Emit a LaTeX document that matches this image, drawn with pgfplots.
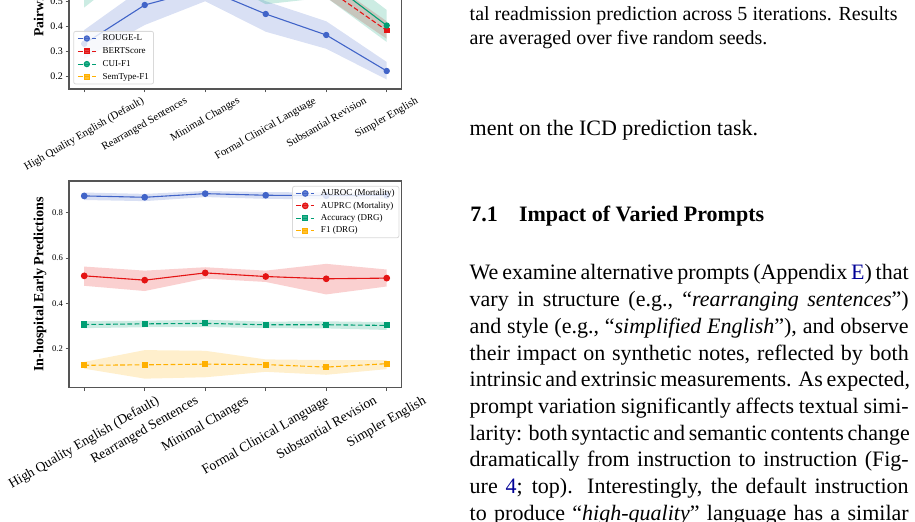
\documentclass[border=0pt]{standalone}
\usepackage{pgfplots}
\pgfplotsset{compat=1.18}
\usepackage{pgfplotstable}
\usepgfplotslibrary{fillbetween}
\usepackage{graphicx}
\usepackage{fontspec}
\setmainfont{Liberation Serif}
\definecolor{cblue}{RGB}{65,100,200}
\definecolor{cred}{RGB}{228,20,20}
\definecolor{cteal}{RGB}{0,158,115}
\definecolor{corange}{RGB}{255,176,0}
\definecolor{framegray}{RGB}{85,85,85}
\definecolor{linkblue}{RGB}{0,0,150}

\pgfplotstableread{
x r rl rh b bl bh c cl ch s sl sh
0 0.330 0.270 0.385 0.800 0.760 0.840 0.560 0.475 0.640 0.850 0.810 0.890
1 0.485 0.405 0.558 0.820 0.790 0.850 0.730 0.665 0.790 0.870 0.840 0.900
2 0.550 0.500 0.620 0.900 0.880 0.920 0.700 0.620 0.780 0.950 0.930 0.970
3 0.449 0.378 0.500 0.790 0.750 0.830 0.560 0.488 0.640 0.840 0.800 0.880
4 0.365 0.310 0.420 0.552 0.515 0.590 0.586 0.515 0.650 0.660 0.620 0.700
5 0.221 0.187 0.257 0.383 0.350 0.420 0.403 0.337 0.465 0.620 0.575 0.665
}\topdata

\pgfplotstableread{
x a al ah p pl ph c cl ch f fl fh
0 0.875 0.857 0.890 0.522 0.478 0.563 0.307 0.291 0.322 0.127 0.112 0.142
1 0.869 0.852 0.884 0.503 0.455 0.545 0.310 0.295 0.324 0.129 0.068 0.194
2 0.885 0.870 0.897 0.535 0.510 0.560 0.312 0.296 0.328 0.132 0.074 0.191
3 0.878 0.862 0.892 0.519 0.495 0.545 0.306 0.291 0.320 0.130 0.098 0.153
4 0.876 0.860 0.890 0.509 0.440 0.575 0.306 0.290 0.321 0.119 0.085 0.150
5 0.878 0.862 0.892 0.512 0.475 0.550 0.303 0.283 0.318 0.134 0.110 0.150
}\botdata

\pgfplotsset{
  myaxis/.style={
    scale only axis,
    width=166.375pt,
    xmin=-0.25, xmax=5.25,
    xtick={0,1,2,3,4,5},
    axis line style={draw=framegray, line width=0.65pt},
    tick align=outside,
    xtick pos=left, ytick pos=left,
    major tick length=1.75pt,
    tick style={draw=framegray, line width=0.5pt},
    /pgf/number format/assume math mode=true,
    yticklabel style={/pgf/number format/fixed, /pgf/number format/precision=1, /pgf/number format/fixed zerofill, inner sep=1.2pt},
    xticklabel style={anchor=north, inner sep=1.6pt},
    xticklabels={\rotatebox{30}{High Quality English (Default)},
                 \rotatebox{30}{Rearranged Sentences},
                 \rotatebox{30}{Minimal Changes},
                 \rotatebox{30}{Formal Clinical Language},
                 \rotatebox{30}{Substantial Revision},
                 \rotatebox{30}{Simpler English}},
    ylabel style={at={(axis description cs:-0.0875,0.5)}, anchor=center},
    legend cell align=left,
    legend image code/.code={\draw[mark repeat=2,mark phase=2,#1,dash pattern=on 2.4pt off 1.2pt] plot coordinates {(0pt,0pt) (4.5pt,0pt) (9pt,0pt)};},
  },
  band/.style={draw=none, fill=#1, fill opacity=0.2, forget plot},
}

\begin{document}
\begin{tikzpicture}
% ---------------- top chart
\begin{axis}[myaxis,
  at={(34.55pt,-44.5pt)}, anchor=south west,
  height=108.875pt,
  ymin=0.149, ymax=1.02,
  ytick={0.2,0.3,0.4,0.5,0.6,0.7,0.8,0.9,1.0},
  yticklabel style={font=\fontsize{5}{6}\selectfont},
  xticklabel style={font=\fontsize{5.45}{6}\selectfont},
  ylabel={Pairwise Similarity},
  ylabel style={font=\bfseries\fontsize{6.9}{8}\selectfont},
  legend style={at={(axis description cs:0.0126,0.2664)}, anchor=north west,
    font=\fontsize{4.5}{5}\selectfont, draw=black!15, fill=white, fill opacity=0.8, text opacity=1,
    rounded corners=1pt, inner xsep=1.8pt, inner ysep=0.9pt, row sep=1.1pt, column sep=2.6pt,
    nodes={inner sep=0.5pt, text height=3.3pt, text depth=1pt}},
]
\addplot[draw=none, name path=rl, forget plot] table[x=x,y=rl]{\topdata};
\addplot[draw=none, name path=rh, forget plot] table[x=x,y=rh]{\topdata};
\addplot[band=cblue] fill between[of=rl and rh];
\addplot[draw=none, name path=bl, forget plot] table[x=x,y=bl]{\topdata};
\addplot[draw=none, name path=bh, forget plot] table[x=x,y=bh]{\topdata};
\addplot[band=cred] fill between[of=bl and bh];
\addplot[draw=none, name path=cl, forget plot] table[x=x,y=cl]{\topdata};
\addplot[draw=none, name path=ch, forget plot] table[x=x,y=ch]{\topdata};
\addplot[band=cteal] fill between[of=cl and ch];
\addplot[draw=none, name path=sl, forget plot] table[x=x,y=sl]{\topdata};
\addplot[draw=none, name path=sh, forget plot] table[x=x,y=sh]{\topdata};
\addplot[band=corange] fill between[of=sl and sh];

\addplot[cblue, line width=0.55pt, mark=*, mark size=1.3pt, mark options={solid}] table[x=x,y=r]{\topdata};
\addlegendentry{ROUGE-L}
\addplot[cred, line width=0.55pt, dash pattern=on 2.4pt off 1.2pt, mark=square*, mark size=1.15pt, mark options={solid}] table[x=x,y=b]{\topdata};
\addlegendentry{BERTScore}
\addplot[cteal, line width=0.55pt, mark=*, mark size=1.3pt, mark options={solid}] table[x=x,y=c]{\topdata};
\addlegendentry{CUI-F1}
\addplot[corange, line width=0.55pt, dash pattern=on 2.4pt off 1.2pt, mark=square*, mark size=1.15pt, mark options={solid}] table[x=x,y=s]{\topdata};
\addlegendentry{SemType-F1}
\end{axis}

% ---------------- bottom chart
\begin{axis}[myaxis,
  at={(34.55pt,-193.85pt)}, anchor=south west,
  height=103.35pt,
  ymin=0.028, ymax=0.941,
  ytick={0.2,0.4,0.6,0.8},
  yticklabel style={font=\fontsize{4.3}{5}\selectfont},
  xticklabel style={font=\fontsize{6.85}{8}\selectfont},
  ylabel={In-hospital Early Predictions},
  ylabel style={font=\bfseries\fontsize{7.05}{8}\selectfont},
  legend style={at={(axis description cs:0.9925,0.976)}, anchor=north east,
    font=\fontsize{4.5}{5}\selectfont, draw=black!15, fill=white, fill opacity=0.8, text opacity=1,
    rounded corners=1pt, inner xsep=1.6pt, inner ysep=0.9pt, row sep=0.9pt, column sep=2.6pt,
    nodes={inner sep=0.5pt, text height=3.3pt, text depth=1pt}},
]
\addplot[draw=none, name path=al, forget plot] table[x=x,y=al]{\botdata};
\addplot[draw=none, name path=ah, forget plot] table[x=x,y=ah]{\botdata};
\addplot[band=cblue] fill between[of=al and ah];
\addplot[draw=none, name path=pl, forget plot] table[x=x,y=pl]{\botdata};
\addplot[draw=none, name path=ph, forget plot] table[x=x,y=ph]{\botdata};
\addplot[band=cred] fill between[of=pl and ph];
\addplot[draw=none, name path=ccl, forget plot] table[x=x,y=cl]{\botdata};
\addplot[draw=none, name path=cch, forget plot] table[x=x,y=ch]{\botdata};
\addplot[band=cteal] fill between[of=ccl and cch];
\addplot[draw=none, name path=fl, forget plot] table[x=x,y=fl]{\botdata};
\addplot[draw=none, name path=fh, forget plot] table[x=x,y=fh]{\botdata};
\addplot[band=corange] fill between[of=fl and fh];

\addplot[cblue, line width=0.55pt, mark=*, mark size=1.4pt, mark options={solid}] table[x=x,y=a]{\botdata};
\addlegendentry{AUROC (Mortality)}
\addplot[cred, line width=0.55pt, mark=*, mark size=1.4pt, mark options={solid}] table[x=x,y=p]{\botdata};
\addlegendentry{AUPRC (Mortality)}
\addplot[cteal, line width=0.55pt, dash pattern=on 2.4pt off 1.2pt, mark=square*, mark size=1.25pt, mark options={solid}] table[x=x,y=c]{\botdata};
\addlegendentry{Accuracy (DRG)}
\addplot[corange, line width=0.55pt, dash pattern=on 2.4pt off 1.2pt, mark=square*, mark size=1.25pt, mark options={solid}] table[x=x,y=f]{\botdata};
\addlegendentry{F1 (DRG)}
\end{axis}

% ---------------- text column
\begin{scope}[x=0.5pt, y=-0.5pt]
\def\capline#1#2{\node[anchor=base west, inner sep=0pt] at (469.3,#1) {\fontsize{10}{12}\selectfont #2};}
\def\bodyline#1#2{\node[anchor=base west, inner sep=0pt] at (469.3,#1) {\fontsize{11}{13}\selectfont\makebox[219.5pt][s]{#2}};}
\def\lastline#1#2{\node[anchor=base west, inner sep=0pt] at (469.3,#1) {\fontsize{11}{13}\selectfont #2};}
\capline{20.7}{\makebox[213.9pt][s]{tal readmission prediction across 5 iterations. Results}}
\capline{44.3}{are averaged over five random seeds.}
\lastline{136}{ment on the ICD prediction task.}
\node[anchor=base west, inner sep=0pt] at (470,221.7) {\fontsize{11}{13}\selectfont\bfseries 7.1};
\node[anchor=base west, inner sep=0pt] at (518.7,221.7) {\fontsize{11}{13}\selectfont\bfseries Impact of Varied Prompts};
\bodyline{280.0}{We examine alternative prompts (Appendix \textcolor{linkblue}{E}) that}
\bodyline{306.7}{vary in structure (e.g., “\textit{rearranging sentences}”)}
\bodyline{333.4}{and style (e.g., “\textit{simplified English}”), and observe}
\bodyline{360.1}{their impact on synthetic notes, reflected by both}
\bodyline{386.8}{intrinsic and extrinsic measurements. As expected,}
\bodyline{413.5}{prompt variation significantly affects textual simi-}
\bodyline{440.2}{larity: both syntactic and semantic contents change}
\bodyline{466.9}{dramatically from instruction to instruction (Fig-}
\bodyline{493.6}{ure \textcolor{linkblue}{4}; top). Interestingly, the default instruction}
\bodyline{520.3}{to produce “\textit{high-quality}” language has a similar}
\end{scope}

\pgfresetboundingbox
\path[use as bounding box] (0pt,0pt) rectangle (457.5pt,-261pt);
\end{tikzpicture}
\end{document}
